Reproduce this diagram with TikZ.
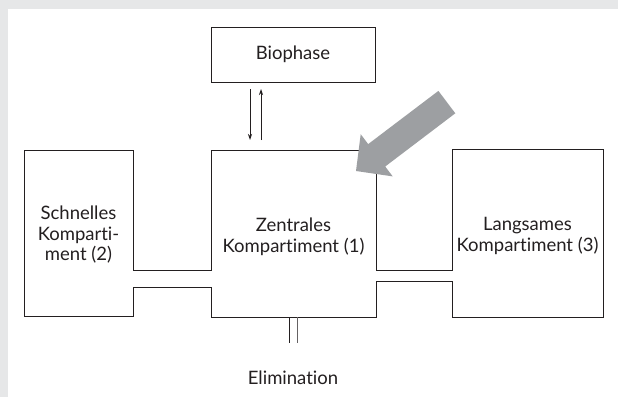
\documentclass[tikz,border=0pt]{standalone}
\usepackage{fontspec}
\setmainfont{Lato}[Ligatures={NoCommon}]
\usetikzlibrary{arrows.meta}
\definecolor{bggray}{HTML}{E6E7E8}
\definecolor{arrowgray}{HTML}{9D9FA2}
\definecolor{ink}{HTML}{231F20}
\tikzset{
  outline/.style={draw=ink, line width=1pt, line join=miter},
  label/.style={font=\fontsize{18.5}{20.5}\selectfont, text=ink, inner sep=0pt, align=center},
  thinarrow/.style={draw=ink, line width=0.8pt, -{Stealth[length=6pt,width=4pt]}},
  elimline/.style={draw=ink, line width=0.8pt}
}
\begin{document}
\begin{tikzpicture}[x=1pt,y=-1pt]
\useasboundingbox (0,0) rectangle (618,397);
\fill[white] (0,0) rectangle (618,397);
\fill[bggray] (0,0) rectangle (618,9);
\fill[bggray] (0,0) rectangle (8,397);

% Biophase box
\draw[outline] (211,27.5) rectangle (375.5,82);
\node[label, anchor=base] (bio) at (293,59.5) {Biophase};

% compartments outline
\draw[outline] (24,150) -- (133,150) -- (133,270) -- (211,270) -- (211,150)
  -- (376,150) -- (376,270) -- (452,270) -- (452,149.5) -- (603,149.5)
  -- (603,317) -- (452,317) -- (452,281) -- (376,281) -- (376,317)
  -- (211,317) -- (211,287) -- (133,287) -- (133,316.5) -- (24,316.5) -- cycle;

% coordinates for connectors
\coordinate (bioA) at (250,89);
\coordinate (cenA) at (250,140);
\coordinate (cenB) at (261,140);
\coordinate (bioB) at (261,89);
\draw[thinarrow] (bioA) -- (cenA);
\draw[thinarrow] (cenB) -- (bioB);

\coordinate (e1a) at (289,317);
\coordinate (e1b) at (289,343);
\coordinate (e2a) at (297,317);
\coordinate (e2b) at (297,343);
\draw[elimline] (e1a) -- (e1b);
\draw[elimline, draw=ink!70] (e2a) -- (e2b);

% text nodes
\node[label] (schnell) at (78.5,235) {Schnelles\\Komparti-\\ment (2)};
\node[label] (zentral) at (293.5,237) {Zentrales\\Kompartiment (1)};
\node[label] (langsam) at (527.5,236) {Langsames\\Kompartiment (3)};
\node[label, anchor=base] (elim) at (293,384) {Elimination};

% big gray arrow
\fill[arrowgray] (356,171) -- (360.7,134.2) -- (368.2,144.1) -- (438.4,90.9)
  -- (455.3,113.3) -- (385.2,166.5) -- (392.7,176.4) -- cycle;
\end{tikzpicture}
\end{document}
